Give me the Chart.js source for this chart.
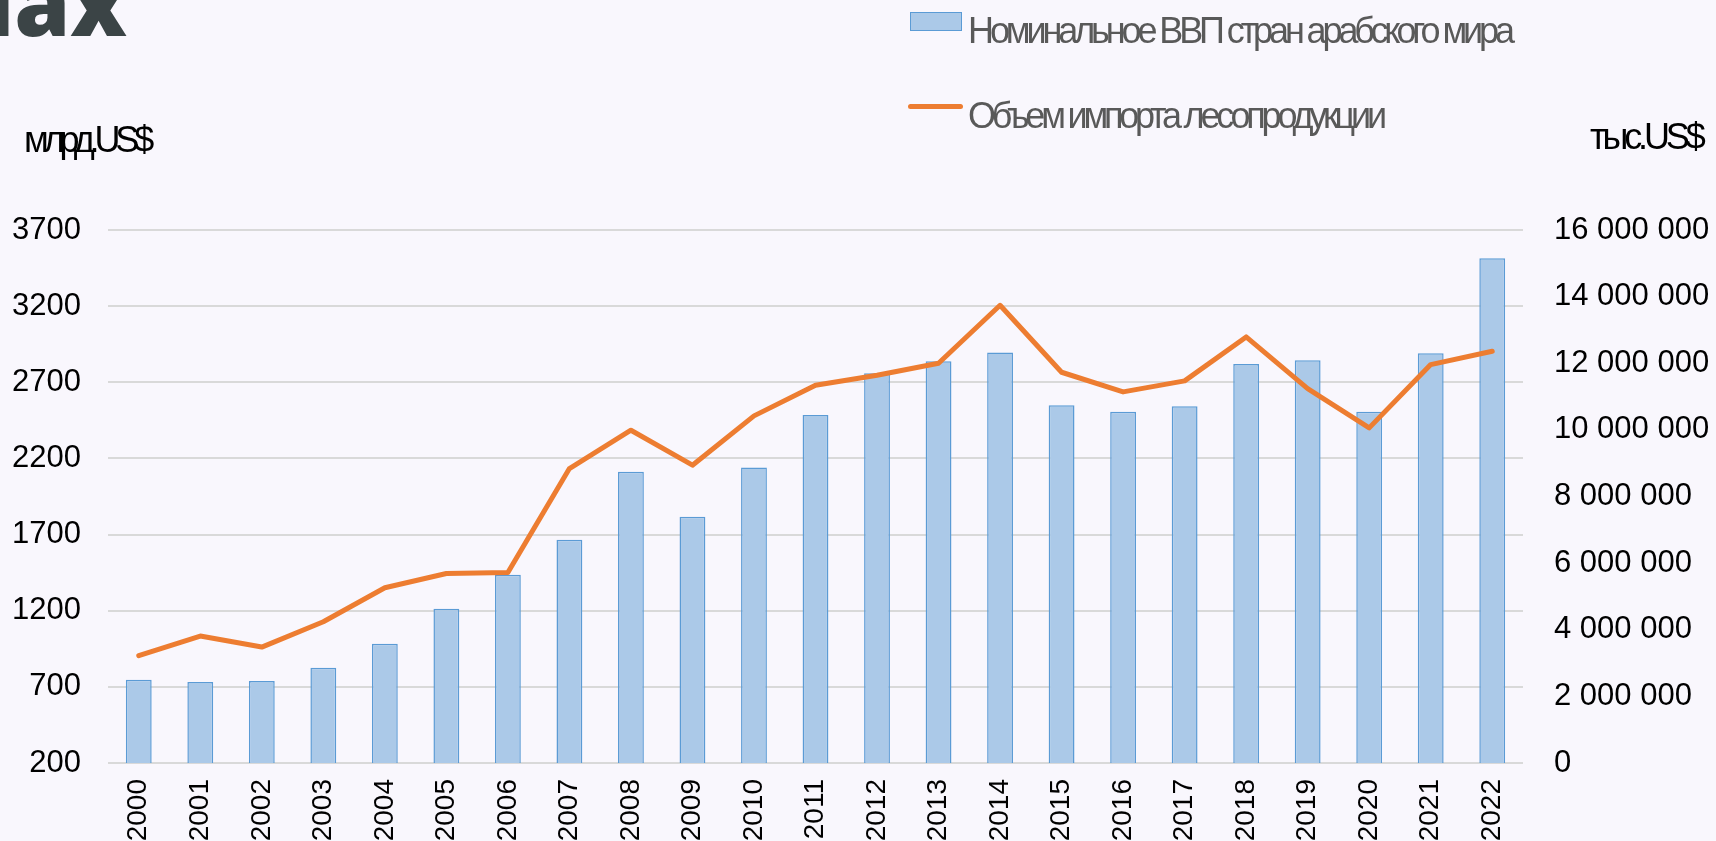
<!DOCTYPE html>
<html>
<head>
<meta charset="utf-8">
<script src="https://cdn.jsdelivr.net/npm/chart.js@4.4.1/dist/chart.umd.min.js"></script>
<style>
  html, body { margin: 0; padding: 0; background: #f9f7fd; }
  body { width: 1716px; height: 841px; position: relative; overflow: hidden; }
  #c { position: absolute; left: 0; top: 0; }
  .t { position: absolute; white-space: nowrap; font-family: "Liberation Sans", Arial, sans-serif; line-height: 1; }
  #title { position: absolute; right: 1589px; top: -44px; font-family: "Open Sans", sans-serif; font-weight: 800; font-size: 90px; line-height: 90px; color: #3b4446; white-space: nowrap; }
  #lgBox { position: absolute; left: 910px; top: 12px; width: 50px; height: 17px; background: #abc9e8; border: 1.5px solid #5b9bd5; }
  #lgLine { position: absolute; left: 908px; top: 104px; width: 55px; height: 5px; background: #ed7d31; border-radius: 3px; }
</style>
</head>
<body>
<canvas id="c" width="1716" height="841"></canvas>
<div id="title">нах</div>
<div id="lgBox"></div>
<div class="t" id="lg1" style="left:968px; top:13px; font-size:36px; color:#595959; letter-spacing:-4.1px;">Номинальное ВВП стран арабского мира</div>
<div id="lgLine"></div>
<div class="t" id="lg2" style="left:968px; top:98px; font-size:36px; color:#595959; letter-spacing:-4.2px;">Объем импорта лесопродукции</div>
<div class="t" id="ttlL" style="left:24px; top:122px; font-size:36px; color:#000; letter-spacing:-5.1px;">млрд.US$</div>
<div class="t" id="ttlR" style="left:1590px; top:119px; font-size:36px; color:#000; letter-spacing:-4.1px;">тыс.US$</div>
<script>
const years = ['2000','2001','2002','2003','2004','2005','2006','2007','2008','2009','2010','2011','2012','2013','2014','2015','2016','2017','2018','2019','2020','2021','2022'];
const gdpNames = 'Номинальное ВВП стран арабского мира';
const importNames = 'Объем импорта лесопродукции';
// млрд. US$
const gdpValues = [746, 732, 739, 825, 983, 1213, 1436, 1666, 2112, 1817, 2140, 2485, 2759, 2838, 2896, 2550, 2507, 2543, 2820, 2845, 2507, 2890, 3514];
// тыс. US$
const importValues = [3220000, 3810000, 3480000, 4240000, 5260000, 5690000, 5720000, 8840000, 9990000, 8940000, 10420000, 11340000, 11640000, 12000000, 13740000, 11730000, 11140000, 11470000, 12790000, 11240000, 10060000, 11960000, 12360000];
const leftTicks = { min: 200, max: 3700, step: 500 };
const rightTicks = { min: 0, max: 16000000, step: 2000000 };

function fmtSpaces(v) {
  return String(Math.round(v)).replace(/\B(?=(\d{3})+(?!\d))/g, ' ');
}

const FONT = "'Liberation Sans', Arial, sans-serif";

new Chart(document.getElementById('c'), {
  type: 'bar',
  data: {
    labels: years,
    datasets: [
      {
        type: 'line',
        label: importNames,
        data: importValues,
        yAxisID: 'y2',
        borderColor: '#ed7d31',
        backgroundColor: '#ed7d31',
        borderWidth: 5,
        pointRadius: 0,
        tension: 0,
        borderCapStyle: 'round',
        borderJoinStyle: 'round',
        order: 0
      },
      {
        type: 'bar',
        label: gdpNames,
        data: gdpValues,
        yAxisID: 'y',
        backgroundColor: '#abc9e8',
        borderColor: '#5b9bd5',
        borderWidth: 1.5,
        categoryPercentage: 1,
        barPercentage: 0.42,
        order: 1
      }
    ]
  },
  options: {
    responsive: false,
    animation: false,
    devicePixelRatio: 1,
    layout: { padding: { top: 230, left: 0, right: 0, bottom: 0 } },
    plugins: { legend: { display: false }, tooltip: { enabled: false } },
    scales: {
      x: {
        grid: { display: false, drawTicks: false },
        border: { display: false },
        ticks: {
          color: '#000',
          font: { family: FONT, size: 28 },
          minRotation: 90, maxRotation: 90,
          padding: 16,
          autoSkip: false
        },
        afterFit(s) { s.height = 78; }
      },
      y: {
        position: 'left',
        min: leftTicks.min, max: leftTicks.max,
        ticks: { stepSize: leftTicks.step, color: '#000', font: { family: FONT, size: 31 }, padding: 27, callback: v => String(v) },
        grid: { color: '#d9d9d9', lineWidth: 2, drawTicks: false },
        border: { display: false },
        afterFit(s) { s.width = 108; }
      },
      y2: {
        position: 'right',
        min: rightTicks.min, max: rightTicks.max,
        ticks: { stepSize: rightTicks.step, color: '#000', font: { family: FONT, size: 31 }, padding: 31, callback: v => fmtSpaces(v) },
        grid: { display: false, drawTicks: false },
        border: { display: false },
        afterFit(s) { s.width = 193; }
      }
    }
  }
});
</script>
</body>
</html>
